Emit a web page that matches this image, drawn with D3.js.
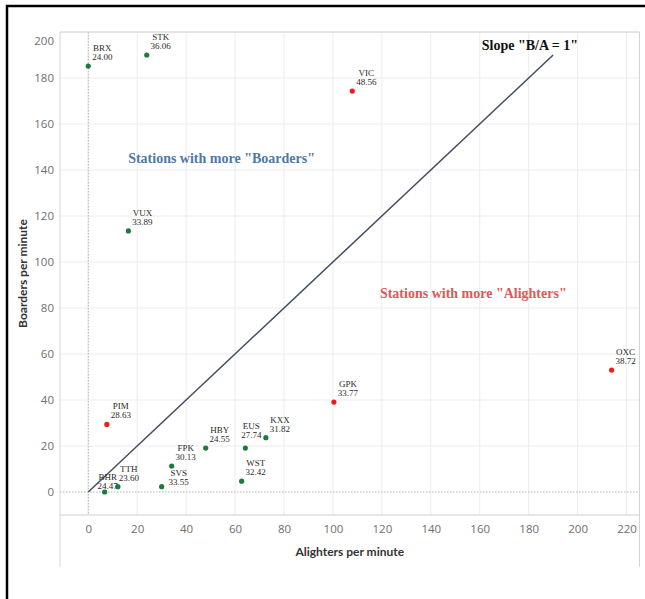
<!DOCTYPE html>
<html>
<head>
<meta charset="utf-8">
<script src="https://cdn.jsdelivr.net/npm/d3@7"></script>
<style>
  body { margin: 0; background: #fff; }
  svg { display: block; }
</style>
</head>
<body>
<svg id="chart" width="645" height="599"></svg>
<script>
// Données : stations, descentes / montées par minute, valeur affichée
const stations = ["BRX", "STK", "VIC", "VUX", "PIM", "BHR", "TTH", "SVS", "FPK", "HBY", "EUS", "KXX", "WST", "GPK", "OXC"];
const alighters = [0, 23.9, 107.9, 16.4, 7.6, 6.7, 12.1, 30.0, 34.1, 48.0, 64.2, 72.6, 62.7, 100.4, 213.9];
const boarders = [185.2, 190.0, 174.3, 113.5, 29.4, 0, 2.3, 2.3, 11.3, 19.1, 19.1, 23.6, 4.7, 39.1, 53.0];
const labelValues = [24.00, 36.06, 48.56, 33.89, 28.63, 24.47, 23.60, 33.55, 30.13, 24.55, 27.74, 31.82, 32.42, 33.77, 38.72];
const highlighted = [false, false, true, false, true, false, false, false, false, false, false, false, false, true, true];
const xTicks = [0, 20, 40, 60, 80, 100, 120, 140, 160, 180, 200, 220];
const yTicks = [0, 20, 40, 60, 80, 100, 120, 140, 160, 180, 200];
const slopeEnds = [0, 190];

const data = stations.map((s, i) => ({
    name: s, a: alighters[i], b: boarders[i], v: labelValues[i], hl: highlighted[i]
}));

const svg = d3.select("#chart");

// cadre noir
svg.append("path").attr("d", "M7,599 V6 H645").attr("fill", "none").attr("stroke", "#000").attr("stroke-width", 2.5);

const plot = { left: 60, right: 639.5, top: 32, bottom: 515 };
const x = d3.scaleLinear().domain([-11.55, 225.3]).range([plot.left, plot.right]);
const y = d3.scaleLinear().domain([-10, 200]).range([plot.bottom, plot.top]);

// grille
const g = svg.append("g");
g.selectAll(".vgrid").data(xTicks).join("line")
    .attr("x1", d => x(d)).attr("x2", d => x(d)).attr("y1", plot.top).attr("y2", plot.bottom)
    .attr("stroke", "#ececec").attr("stroke-width", 1);
g.selectAll(".hgrid").data(yTicks.filter(d => d !== 0)).join("line")
    .attr("x1", plot.left).attr("x2", plot.right).attr("y1", d => y(d)).attr("y2", d => y(d))
    .attr("stroke", "#ececec").attr("stroke-width", 1);

// lignes zéro pointillées
g.append("line").attr("x1", x(0)).attr("x2", x(0)).attr("y1", plot.top).attr("y2", plot.bottom)
    .attr("stroke", "#b5b5b5").attr("stroke-dasharray", "1.5 1.5");
g.append("line").attr("x1", plot.left).attr("x2", plot.right).attr("y1", y(0)).attr("y2", y(0))
    .attr("stroke", "#b5b5b5").attr("stroke-dasharray", "1.5 1.5");

// bords de la zone
g.append("line").attr("x1", plot.left).attr("x2", plot.right).attr("y1", plot.top).attr("y2", plot.top).attr("stroke", "#d4d4d4");
g.append("line").attr("x1", plot.left).attr("x2", plot.right).attr("y1", plot.bottom).attr("y2", plot.bottom).attr("stroke", "#cfcfcf").attr("stroke-width", 1.2);
g.append("line").attr("x1", plot.left).attr("x2", plot.left).attr("y1", plot.top).attr("y2", 567).attr("stroke", "#d4d4d4");
g.append("line").attr("x1", plot.right).attr("x2", plot.right).attr("y1", plot.top).attr("y2", 567).attr("stroke", "#d4d4d4");

// axes
const xAxis = svg.append("g").attr("transform", `translate(0,${plot.bottom})`)
    .call(d3.axisBottom(x).tickValues(xTicks).tickSize(0).tickPadding(10));
const yAxis = svg.append("g").attr("transform", `translate(${plot.left},0)`)
    .call(d3.axisLeft(y).tickValues(yTicks).tickSize(0).tickPadding(6));
[xAxis, yAxis].forEach(ax => {
    ax.select(".domain").remove();
    ax.selectAll("text").attr("font-family", "'Open Sans', Lato, sans-serif").attr("font-size", 11.5).attr("fill", "#6e6e6e");
});
// le 200 est décalé vers le bas comme dans Tableau
yAxis.selectAll(".tick").filter(d => d === 200).select("text").attr("dy", "1.05em");

svg.append("text").attr("x", (plot.left + plot.right) / 2).attr("y", 556).attr("text-anchor", "middle")
    .attr("font-family", "Lato, sans-serif").attr("font-weight", "bold").attr("font-size", 12).attr("fill", "#333")
    .text("Alighters per minute");
svg.append("text").attr("transform", "rotate(-90)").attr("x", -(plot.top + plot.bottom) / 2).attr("y", 27)
    .attr("text-anchor", "middle")
    .attr("font-family", "Lato, sans-serif").attr("font-weight", "bold").attr("font-size", 12).attr("fill", "#333")
    .text("Boarders per minute");

// droite B/A = 1
svg.append("line")
    .attr("x1", x(slopeEnds[0])).attr("y1", y(slopeEnds[0]))
    .attr("x2", x(slopeEnds[1])).attr("y2", y(slopeEnds[1]))
    .attr("stroke", "#434e60").attr("stroke-width", 1.5);

// annotations
const serif = "'Liberation Serif', 'Times New Roman', serif";
svg.append("text").attr("x", x(180.5)).attr("y", y(192)).attr("text-anchor", "middle")
    .attr("font-family", serif).attr("font-weight", "bold").attr("font-size", 14).attr("fill", "#111")
    .text('Slope "B/A = 1"');
svg.append("text").attr("x", x(16.3)).attr("y", y(143)).attr("font-family", serif).attr("font-weight", "bold")
    .attr("font-size", 14).attr("fill", "#4e79a7").text('Stations with more "Boarders"');
svg.append("text").attr("x", x(119.2)).attr("y", y(84.3)).attr("font-family", serif).attr("font-weight", "bold")
    .attr("font-size", 14).attr("fill", "#e15759").text('Stations with more "Alighters"');

// points
const color = d3.scaleOrdinal().domain([false, true]).range(["#1d7a3e", "#f51a1a"]);
svg.selectAll(".dot").data(data).join("circle").attr("class", "dot")
    .attr("cx", d => x(d.a)).attr("cy", d => y(d.b)).attr("r", 2.6)
    .attr("fill", d => color(d.hl));

// étiquettes (décalages manuels pour éviter les chevauchements)
const nudge = { BHR: [3, 3], TTH: [11, 0], SVS: [17, 4.5], EUS: [6, -4.5] };
const lbl = svg.selectAll(".lbl").data(data).join("text").attr("class", "lbl")
    .attr("font-family", serif).attr("font-size", 9).attr("fill", "#2a2a2a").attr("text-anchor", "middle")
    .attr("transform", d => {
        const n = nudge[d.name] || [14, 0];
        return `translate(${x(d.a) + n[0]},${y(d.b) + n[1]})`;
    });
lbl.append("tspan").attr("x", 0).attr("y", -15).text(d => d.name);
lbl.append("tspan").attr("x", 0).attr("y", -6).text(d => d3.format(".2f")(d.v));
</script>
</body>
</html>
